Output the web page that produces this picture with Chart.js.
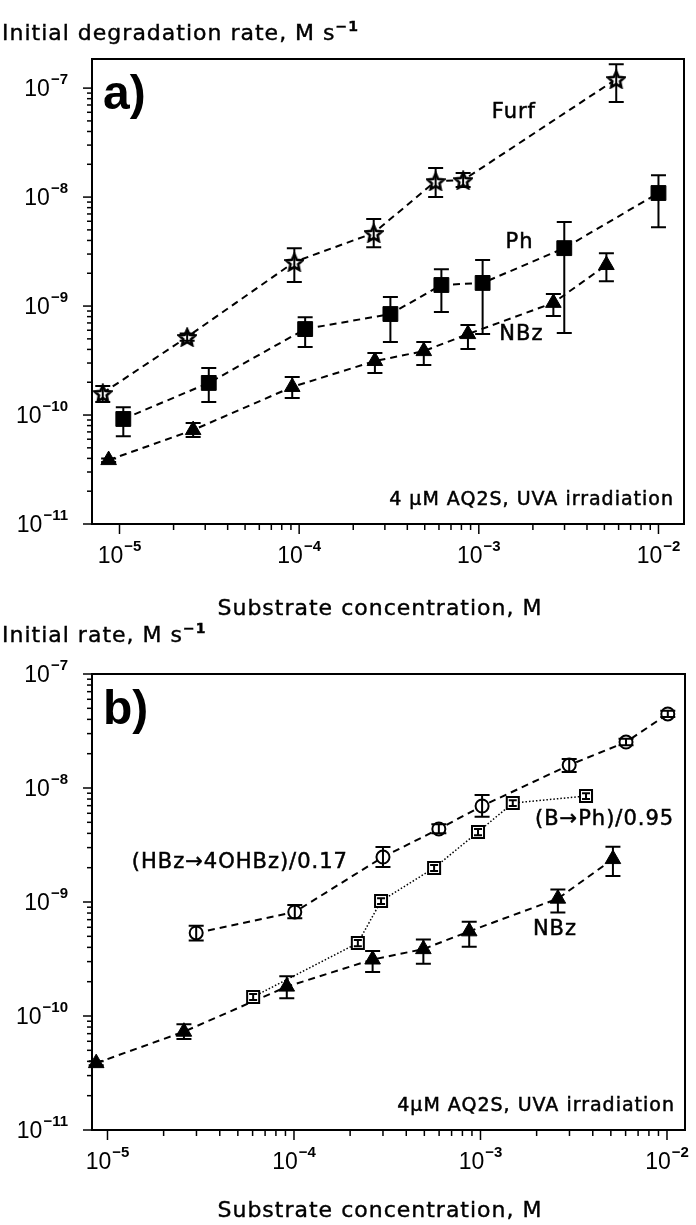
<!DOCTYPE html>
<html>
<head>
<meta charset="utf-8">
<script src="https://cdn.jsdelivr.net/npm/chart.js@4.4.1/dist/chart.umd.min.js"></script>
<style>
  body { margin:0; background:#fff; width:696px; height:1225px; position:relative; overflow:hidden; }
  canvas { position:absolute; left:0; }
  .ttl { position:absolute; font-family:"DejaVu Sans", sans-serif; font-size:22px; line-height:24px; color:#000; white-space:nowrap; letter-spacing:1px; -webkit-text-stroke:0.4px #000; }
  .ttl sup { font-size:14px; vertical-align:9px; line-height:0; font-weight:bold; }
  .xt { width:400px; text-align:center; left:180px; }
</style>
</head>
<body>
<canvas id="chartA" width="696" height="600" style="top:0"></canvas>
<canvas id="chartB" width="696" height="625" style="top:600px"></canvas>
<div class="ttl" style="left:2px; top:21px">Initial degradation rate, M s<sup>−1</sup></div>
<div class="ttl xt" style="top:596px">Substrate concentration, M</div>
<div class="ttl" style="left:2px; top:623px">Initial rate, M s<sup>−1</sup></div>
<div class="ttl xt" style="top:1198px">Substrate concentration, M</div>
<script>
// ---- data ----
// panel a
const furfX  = [8.07e-6, 2.38e-5, 9.4e-5, 2.60e-4, 5.75e-4, 8.18e-4, 5.82e-3]
const furfY  = [1.59e-10, 5.2e-10, 2.54e-9, 4.68e-9, 1.40e-8, 1.43e-8, 1.21e-7]
const furfLo = [1.32e-10, 4.8e-10, 1.66e-9, 3.47e-9, 1.0e-8, 1.24e-8, 7.45e-8]
const furfHi = [1.85e-10, 5.6e-10, 3.40e-9, 6.28e-9, 1.85e-8, 1.66e-8, 1.66e-7]

const phX  = [1.05e-5, 3.14e-5, 1.08e-4, 3.22e-4, 6.19e-4, 1.05e-3, 2.99e-3, 1.0e-2]
const phY  = [9.2e-11, 1.97e-10, 6.15e-10, 8.45e-10, 1.56e-9, 1.63e-9, 3.40e-9, 1.09e-8]
const phLo = [6.4e-11, 1.32e-10, 4.2e-10, 4.68e-10, 8.8e-10, 5.53e-10, 5.65e-10, 5.3e-9]
const phHi = [1.18e-10, 2.7e-10, 7.9e-10, 1.21e-9, 2.18e-9, 2.64e-9, 5.9e-9, 1.59e-8]

// NBz appears in both panels
const nbzX  = [8.7e-6, 2.57e-5, 9.15e-5, 2.64e-4, 4.94e-4, 8.7e-4, 2.6e-3, 5.13e-3]
const nbzY  = [3.86e-11, 7.28e-11, 1.81e-10, 3.13e-10, 3.86e-10, 5.53e-10, 1.07e-9, 2.38e-9]
const nbzLo = [3.7e-11, 6.28e-11, 1.43e-10, 2.43e-10, 2.88e-10, 4.04e-10, 8.1e-10, 1.69e-9]
const nbzHi = [4.0e-11, 8.45e-11, 2.23e-10, 3.71e-10, 4.68e-10, 6.7e-10, 1.29e-9, 3.06e-9]

// panel b
const hbzX  = [2.99e-5, 1.01e-4, 3.0e-4, 5.98e-4, 1.02e-3, 2.99e-3, 6.03e-3, 1.01e-2]
const hbzY  = [5.35e-10, 8.17e-10, 2.48e-9, 4.37e-9, 6.95e-9, 1.59e-8, 2.53e-8, 4.46e-8]
const hbzLo = [4.6e-10, 7.2e-10, 2.03e-9, 4.0e-9, 5.6e-9, 1.38e-8, 2.37e-8, 4.2e-8]
const hbzHi = [6.2e-10, 9.4e-10, 3.03e-9, 4.8e-9, 8.7e-9, 1.8e-8, 2.7e-8, 4.75e-8]

const bphX  = [6.04e-5, 2.20e-4, 2.93e-4, 5.64e-4, 9.7e-4, 1.49e-3, 3.68e-3]
const bphY  = [1.47e-10, 4.37e-10, 1.02e-9, 1.99e-9, 4.11e-9, 7.38e-9, 8.5e-9]
const bphLo = [1.38e-10, 4.1e-10, 0.96e-9, 1.87e-9, 3.86e-9, 6.94e-9, 8.0e-9]
const bphHi = [1.56e-10, 4.65e-10, 1.08e-9, 2.11e-9, 4.36e-9, 7.82e-9, 9.0e-9]

// tick labels (powers of ten)
const xTickExps = [-5, -4, -3, -2]
const yTickExps = [-11, -10, -9, -8, -7]

const TXT_FONT = '"DejaVu Sans", sans-serif'
const NUM_FONT = '"Liberation Sans", Arial, sans-serif'

// open star marker
function starImg(size) {
  let c = document.createElement('canvas')
  c.width = c.height = size
  let g = c.getContext('2d')
  let R = size / 2 - 1.4, r = R * 0.47
  g.beginPath()
  for (let i = 0; i < 10; i++) {
    let ang = -Math.PI / 2 + i * Math.PI / 5
    let rr = i % 2 ? r : R
    g.lineTo(size / 2 + rr * Math.cos(ang), size / 2 + 1 + rr * Math.sin(ang))
  }
  g.closePath()
  g.fillStyle = '#fff'
  g.fill()
  g.lineWidth = 2.6
  g.lineJoin = 'miter'
  g.strokeStyle = '#000'
  g.stroke()
  return c
}

function series(xs, ys, lo, hi, style) {
  return Object.assign({
    data: xs.map((x, i) => ({ x: x, y: ys[i] })),
    errLo: lo, errHi: hi,
    showLine: true, clip: false,
    borderColor: '#000', borderWidth: 2, borderDash: [7, 5],
    pointBorderColor: '#000'
  }, style)
}

function powLabel(ctx, exp, x, y, align) {
  let sup = '\u2212' + Math.abs(exp)
  ctx.font = '23px ' + NUM_FONT
  let bw = ctx.measureText('10').width
  ctx.font = 'bold 15px ' + NUM_FONT
  let sw = ctx.measureText(sup).width
  let left = align == 'right' ? x - bw - sw - 1 : x - (bw + sw + 1) / 2
  ctx.textAlign = 'left'
  ctx.textBaseline = 'middle'
  ctx.font = '23px ' + NUM_FONT
  ctx.fillText('10', left, y)
  ctx.font = 'bold 15px ' + NUM_FONT
  ctx.fillText(sup, left + bw + 1, y - 10)
}

function heavyText(ctx, s, x, y) {
  ctx.fillText(s, x, y)
  ctx.lineWidth = 0.5
  ctx.strokeText(s, x, y)
}

// frame, log ticks, tick labels, notes
const framePlugin = {
  id: 'logFrame',
  afterDraw(chart, args, opts) {
    let ctx = chart.ctx, a = chart.chartArea
    let xs = chart.scales.x, ys = chart.scales.y
    ctx.save()
    ctx.strokeStyle = '#000'
    ctx.fillStyle = '#000'
    ctx.lineWidth = 2
    ctx.strokeRect(a.left, a.top, a.right - a.left, a.bottom - a.top)
    ctx.lineWidth = 1.5
    // x ticks
    let xLast = xTickExps[xTickExps.length - 1]
    for (let e = xTickExps[0]; e <= xLast; e++) {
      for (let m = 1; m <= 9; m++) {
        if (e == xLast && m > 1) break
        let px = xs.getPixelForValue(m * Math.pow(10, e))
        ctx.beginPath()
        ctx.moveTo(px, a.bottom)
        ctx.lineTo(px, a.bottom + (m == 1 ? 10 : 6))
        ctx.stroke()
      }
    }
    // y ticks
    for (let e = yTickExps[0]; e <= yTickExps[yTickExps.length - 1]; e++) {
      for (let m = 1; m <= 9; m++) {
        let v = m * Math.pow(10, e)
        if (v > ys.max) break
        let py = ys.getPixelForValue(v)
        ctx.beginPath()
        ctx.moveTo(a.left, py)
        ctx.lineTo(a.left - (m == 1 ? 9 : 5), py)
        ctx.stroke()
      }
    }
    xTickExps.forEach(e => powLabel(ctx, e, xs.getPixelForValue(Math.pow(10, e)), a.bottom + 33, 'center'))
    yTickExps.forEach(e => powLabel(ctx, e, 68, ys.getPixelForValue(Math.pow(10, e)) + 2, 'right'))

    // panel letter
    ctx.font = 'bold 48px ' + NUM_FONT
    ctx.textBaseline = 'alphabetic'
    ctx.textAlign = 'left'
    ctx.fillText(opts.letter, a.left + 11, a.top + 50)

    // notes
    ctx.font = '21px ' + TXT_FONT
    ctx.textBaseline = 'middle'
    try { ctx.letterSpacing = '1px' } catch (err) {}
    opts.notes.forEach(n => {
      ctx.textAlign = 'left'
      heavyText(ctx, n.text, xs.getPixelForValue(n.x), ys.getPixelForValue(n.y))
    })
    ctx.textAlign = 'right'
    ctx.font = '19px ' + TXT_FONT
    heavyText(ctx, opts.corner, a.right - 10, a.bottom - 24)
    ctx.restore()
  }
}

const errPlugin = {
  id: 'errBars',
  afterDatasetsDraw(chart) {
    let ctx = chart.ctx
    let xs = chart.scales.x, ys = chart.scales.y
    ctx.save()
    ctx.strokeStyle = '#000'
    ctx.lineWidth = 2
    chart.data.datasets.forEach(ds => {
      if (!ds.errLo) return
      ds.data.forEach((p, i) => {
        let px = xs.getPixelForValue(p.x)
        let y1 = ys.getPixelForValue(ds.errLo[i]), y2 = ys.getPixelForValue(ds.errHi[i])
        let cap = ds.capHalf || 7.5
        ctx.beginPath()
        ctx.moveTo(px, y1); ctx.lineTo(px, y2)
        ctx.moveTo(px - cap, y1); ctx.lineTo(px + cap, y1)
        ctx.moveTo(px - cap, y2); ctx.lineTo(px + cap, y2)
        ctx.stroke()
      })
    })
    ctx.restore()
  }
}

function logAxes(xmin, xmax, ymin, ymax) {
  return {
    x: { type: 'logarithmic', min: xmin, max: xmax, display: false },
    y: { type: 'logarithmic', min: ymin, max: ymax, display: false }
  }
}

const star = starImg(20)

let chart_a = new Chart(document.querySelector('#chartA'), {
  type: 'scatter',
  data: {
    datasets: [
      series(furfX, furfY, furfLo, furfHi, { pointStyle: star, pointRadius: 10 }),
      series(phX, phY, phLo, phHi, { pointStyle: 'rect', pointRadius: 10.5, pointBackgroundColor: '#000', pointBorderWidth: 1 }),
      series(nbzX, nbzY, nbzLo, nbzHi, { pointStyle: 'triangle', pointRadius: 9, pointBackgroundColor: '#000', pointBorderWidth: 1 })
    ]
  },
  options: {
    responsive: false, animation: false, events: [],
    layout: { padding: { left: 92, top: 59, right: 1, bottom: 76 } },
    scales: logAxes(7.03e-6, 1.387e-2, 1e-11, 1.85e-7),
    plugins: {
      legend: { display: false }, tooltip: { enabled: false },
      logFrame: {
        letter: 'a)',
        notes: [
          { text: 'Furf', x: 1.18e-3, y: 6.0e-8 },
          { text: 'Ph', x: 1.41e-3, y: 3.84e-9 },
          { text: 'NBz', x: 1.30e-3, y: 5.43e-10 }
        ],
        corner: '4 \u00b5M AQ2S, UVA irradiation'
      }
    }
  },
  plugins: [framePlugin, errPlugin]
})

let chart_b = new Chart(document.querySelector('#chartB'), {
  type: 'scatter',
  data: {
    datasets: [
      series(hbzX, hbzY, hbzLo, hbzHi, { pointStyle: 'circle', pointRadius: 6.5, pointBackgroundColor: '#fff', pointBorderWidth: 2 }),
      series(bphX, bphY, bphLo, bphHi, { pointStyle: 'rect', pointRadius: 8.5, pointBackgroundColor: '#fff', pointBorderWidth: 2, borderDash: [1.5, 2], borderWidth: 1.5, capHalf: 4 }),
      series(nbzX, nbzY, nbzLo, nbzHi, { pointStyle: 'triangle', pointRadius: 9, pointBackgroundColor: '#000', pointBorderWidth: 1 })
    ]
  },
  options: {
    responsive: false, animation: false, events: [],
    layout: { padding: { left: 92, top: 74, right: 11, bottom: 95 } },
    scales: logAxes(8.26e-6, 1.249e-2, 1e-11, 1e-7),
    plugins: {
      legend: { display: false }, tooltip: { enabled: false },
      logFrame: {
        letter: 'b)',
        notes: [
          { text: '(HBz\u21924OHBz)/0.17', x: 1.35e-5, y: 2.24e-9 },
          { text: '(B\u2192Ph)/0.95', x: 1.96e-3, y: 5.24e-9 },
          { text: 'NBz', x: 1.91e-3, y: 5.68e-10 }
        ],
        corner: '4\u00b5M AQ2S, UVA irradiation'
      }
    }
  },
  plugins: [framePlugin, errPlugin]
})
</script>
</body>
</html>
